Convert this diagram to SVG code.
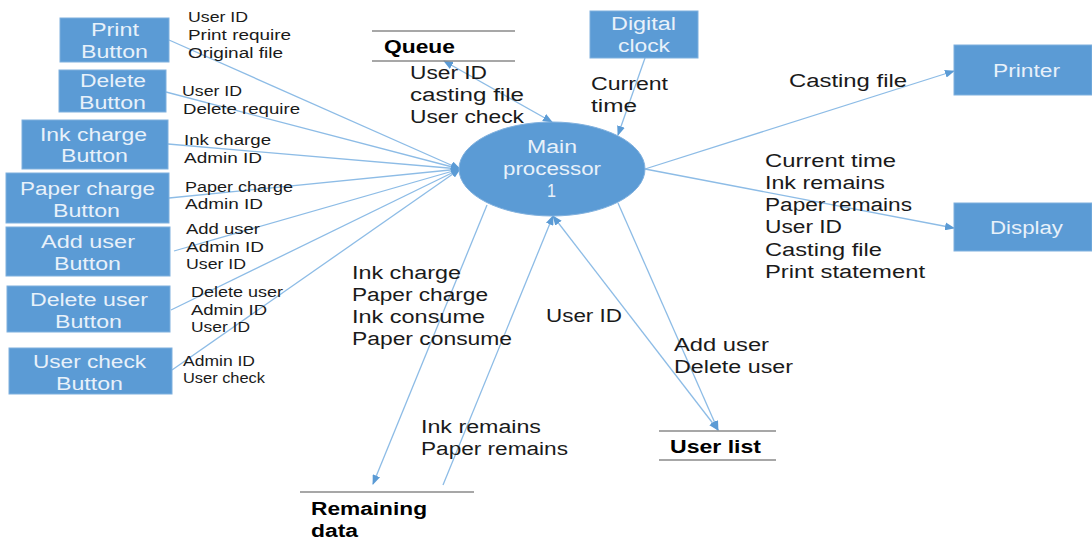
<svg xmlns="http://www.w3.org/2000/svg" width="1092" height="543" viewBox="0 0 1092 543">
<style>
text{font-family:"Liberation Sans","Noto Sans",sans-serif;fill:#1a1a1a;lengthAdjust:spacingAndGlyphs}
.n{fill:#5b9bd5;stroke:#7fb0de;stroke-width:1}
.w{fill:#e8f1fa;font-size:18px}
.l{font-size:18px}
.s{font-size:14px}
.b{font-size:18px;font-weight:700;fill:#000}
.c{stroke:#8dbce6;stroke-width:1.3;fill:none}
.d{stroke:#8a8a8a;stroke-width:1.5}
</style>
<defs>
<marker id="a" markerWidth="10" markerHeight="8" refX="9" refY="4" orient="auto-start-reverse" markerUnits="userSpaceOnUse"><path d="M0 0L10 4L0 8z" fill="#5b9bd5"/></marker>
</defs>
<g id="connectors">
<path class="c" marker-end="url(#a)" d="M169 40L460 169"/>
<path class="c" marker-end="url(#a)" d="M166 92L460 169"/>
<path class="c" marker-end="url(#a)" d="M168 144L460 169"/>
<path class="c" marker-end="url(#a)" d="M169 198L460 169"/>
<path class="c" marker-end="url(#a)" d="M174 251L460 169"/>
<path class="c" marker-end="url(#a)" d="M171 310L460 169"/>
<path class="c" marker-end="url(#a)" d="M172 370L460 169"/>
<path class="c" marker-start="url(#a)" marker-end="url(#a)" d="M444 61L552 122"/>
<path class="c" marker-end="url(#a)" d="M645 58L618 135"/>
<path class="c" marker-end="url(#a)" d="M645 169L954 71"/>
<path class="c" marker-end="url(#a)" d="M645 169L954 228"/>
<path class="c" marker-end="url(#a)" d="M487 205L373 484"/>
<path class="c" marker-end="url(#a)" d="M443 485L553 216"/>
<path class="c" marker-start="url(#a)" marker-end="url(#a)" d="M553 216L718 430"/>
<path class="c" marker-end="url(#a)" d="M618 203L718 430"/>
</g>
<g id="print-button"><rect class="n" x="60" y="18" width="109" height="44"/><text class="w" x="91" y="36" textLength="48" lengthAdjust="spacingAndGlyphs">Print</text><text class="w" x="81" y="58" textLength="67" lengthAdjust="spacingAndGlyphs">Button</text></g>
<g id="delete-button"><rect class="n" x="59" y="70" width="107" height="42"/><text class="w" x="80" y="87" textLength="66" lengthAdjust="spacingAndGlyphs">Delete</text><text class="w" x="79" y="109" textLength="67" lengthAdjust="spacingAndGlyphs">Button</text></g>
<g id="ink-charge-button"><rect class="n" x="22" y="120" width="146" height="49"/><text class="w" x="40" y="141" textLength="107" lengthAdjust="spacingAndGlyphs">Ink charge</text><text class="w" x="61" y="162" textLength="67" lengthAdjust="spacingAndGlyphs">Button</text></g>
<g id="paper-charge-button"><rect class="n" x="6" y="173" width="163" height="50"/><text class="w" x="20" y="195" textLength="135" lengthAdjust="spacingAndGlyphs">Paper charge</text><text class="w" x="53" y="217" textLength="67" lengthAdjust="spacingAndGlyphs">Button</text></g>
<g id="add-user-button"><rect class="n" x="6" y="227" width="164" height="49"/><text class="w" x="41" y="248" textLength="94" lengthAdjust="spacingAndGlyphs">Add user</text><text class="w" x="54" y="270" textLength="67" lengthAdjust="spacingAndGlyphs">Button</text></g>
<g id="delete-user-button"><rect class="n" x="7" y="286" width="163" height="46"/><text class="w" x="30" y="306" textLength="118" lengthAdjust="spacingAndGlyphs">Delete user</text><text class="w" x="55" y="328" textLength="67" lengthAdjust="spacingAndGlyphs">Button</text></g>
<g id="user-check-button"><rect class="n" x="9" y="348" width="163" height="46"/><text class="w" x="33" y="368" textLength="113" lengthAdjust="spacingAndGlyphs">User check</text><text class="w" x="56" y="390" textLength="67" lengthAdjust="spacingAndGlyphs">Button</text></g>
<g id="digital-clock"><rect class="n" x="590" y="11" width="108" height="47"/><text class="w" x="611" y="30" textLength="65" lengthAdjust="spacingAndGlyphs">Digital</text><text class="w" x="618" y="52" textLength="52" lengthAdjust="spacingAndGlyphs">clock</text></g>
<g id="printer"><rect class="n" x="954" y="45" width="138" height="50"/><text class="w" x="993" y="77" textLength="67" lengthAdjust="spacingAndGlyphs">Printer</text></g>
<g id="display"><rect class="n" x="954" y="203" width="138" height="48"/><text class="w" x="990" y="234" textLength="73" lengthAdjust="spacingAndGlyphs">Display</text></g>
<g id="main-processor"><ellipse class="n" cx="552" cy="169" rx="93" ry="47"/><text class="w" x="527" y="153" textLength="50" lengthAdjust="spacingAndGlyphs">Main</text><text class="w" x="503" y="175" textLength="98" lengthAdjust="spacingAndGlyphs">processor</text><text class="w" x="547" y="197" textLength="9" lengthAdjust="spacingAndGlyphs">1</text></g>
<g id="queue"><path class="d" d="M372 31H515M372 61H515"/><text class="b" x="384" y="53" textLength="71" lengthAdjust="spacingAndGlyphs">Queue</text></g>
<g id="remaining-data"><path class="d" d="M300 492H474"/><text class="b" x="311" y="515" textLength="116" lengthAdjust="spacingAndGlyphs">Remaining</text><text class="b" x="311" y="537" textLength="47" lengthAdjust="spacingAndGlyphs">data</text></g>
<g id="user-list"><path class="d" d="M659 431H776M659 460H776"/><text class="b" x="670" y="453" textLength="91" lengthAdjust="spacingAndGlyphs">User list</text></g>
<g id="labels">
<text class="s" x="188" y="22" textLength="60" lengthAdjust="spacingAndGlyphs">User ID</text><text class="s" x="188" y="40" textLength="103" lengthAdjust="spacingAndGlyphs">Print require</text><text class="s" x="188" y="58" textLength="95" lengthAdjust="spacingAndGlyphs">Original file</text>
<text class="s" x="182" y="96" textLength="60" lengthAdjust="spacingAndGlyphs">User ID</text><text class="s" x="183" y="114" textLength="117" lengthAdjust="spacingAndGlyphs">Delete require</text>
<text class="s" x="184" y="145" textLength="87" lengthAdjust="spacingAndGlyphs">Ink charge</text><text class="s" x="184" y="163" textLength="78" lengthAdjust="spacingAndGlyphs">Admin ID</text>
<text class="s" x="185" y="192" textLength="108" lengthAdjust="spacingAndGlyphs">Paper charge</text><text class="s" x="185" y="209" textLength="78" lengthAdjust="spacingAndGlyphs">Admin ID</text>
<text class="s" x="186" y="234" textLength="74" lengthAdjust="spacingAndGlyphs">Add user</text><text class="s" x="186" y="252" textLength="78" lengthAdjust="spacingAndGlyphs">Admin ID</text><text class="s" x="186" y="269" textLength="60" lengthAdjust="spacingAndGlyphs">User ID</text>
<text class="s" x="191" y="297" textLength="92" lengthAdjust="spacingAndGlyphs">Delete user</text><text class="s" x="191" y="315" textLength="76" lengthAdjust="spacingAndGlyphs">Admin ID</text><text class="s" x="191" y="332" textLength="59" lengthAdjust="spacingAndGlyphs">User ID</text>
<text class="s" x="183" y="366" textLength="72" lengthAdjust="spacingAndGlyphs">Admin ID</text><text class="s" x="183" y="383" textLength="82" lengthAdjust="spacingAndGlyphs">User check</text>
<text class="l" x="410" y="79" textLength="77" lengthAdjust="spacingAndGlyphs">User ID</text><text class="l" x="410" y="101" textLength="114" lengthAdjust="spacingAndGlyphs">casting file</text><text class="l" x="410" y="123" textLength="114" lengthAdjust="spacingAndGlyphs">User check</text>
<text class="l" x="591" y="90" textLength="77" lengthAdjust="spacingAndGlyphs">Current</text><text class="l" x="591" y="112" textLength="46" lengthAdjust="spacingAndGlyphs">time</text>
<text class="l" x="789" y="87" textLength="118" lengthAdjust="spacingAndGlyphs">Casting file</text>
<text class="l" x="765" y="167" textLength="131" lengthAdjust="spacingAndGlyphs">Current time</text><text class="l" x="765" y="189" textLength="120" lengthAdjust="spacingAndGlyphs">Ink remains</text><text class="l" x="765" y="211" textLength="147" lengthAdjust="spacingAndGlyphs">Paper remains</text><text class="l" x="765" y="233" textLength="77" lengthAdjust="spacingAndGlyphs">User ID</text><text class="l" x="765" y="256" textLength="117" lengthAdjust="spacingAndGlyphs">Casting file</text><text class="l" x="765" y="278" textLength="160" lengthAdjust="spacingAndGlyphs">Print statement</text>
<text class="l" x="352" y="279" textLength="109" lengthAdjust="spacingAndGlyphs">Ink charge</text><text class="l" x="352" y="301" textLength="136" lengthAdjust="spacingAndGlyphs">Paper charge</text><text class="l" x="352" y="323" textLength="133" lengthAdjust="spacingAndGlyphs">Ink consume</text><text class="l" x="352" y="345" textLength="160" lengthAdjust="spacingAndGlyphs">Paper consume</text>
<text class="l" x="546" y="322" textLength="76" lengthAdjust="spacingAndGlyphs">User ID</text>
<text class="l" x="674" y="351" textLength="95" lengthAdjust="spacingAndGlyphs">Add user</text><text class="l" x="674" y="373" textLength="119" lengthAdjust="spacingAndGlyphs">Delete user</text>
<text class="l" x="421" y="433" textLength="120" lengthAdjust="spacingAndGlyphs">Ink remains</text><text class="l" x="421" y="455" textLength="147" lengthAdjust="spacingAndGlyphs">Paper remains</text>
</g>
</svg>
